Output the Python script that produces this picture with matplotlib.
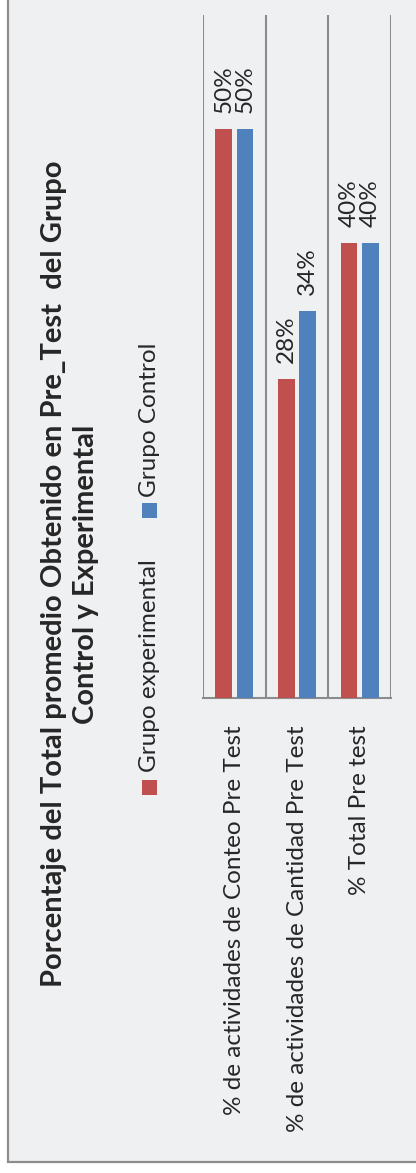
import matplotlib
matplotlib.use("Agg")
import matplotlib.pyplot as plt
from matplotlib.patches import Rectangle

# Data
categories = [
    "% de actividades de Conteo Pre Test",
    "% de actividades de Cantidad Pre Test",
    "% Total Pre test",
]
series_names = ["Grupo experimental", "Grupo Control"]
experimental = [0.50, 0.28, 0.40]
control = [0.50, 0.34, 0.40]
title = "Porcentaje del Total promedio Obtenido en Pre_Test  del Grupo\nControl y Experimental"

RED = "#C0504D"
BLUE = "#4F81BD"
BG = "#EFF0F2"
GRID = "#8C8C8C"
TXT = "#262626"
FONT = "Lato"

W, H = 416, 1173
fig = plt.figure(figsize=(W / 100, H / 100), dpi=100, facecolor="white")


def px(x, y):
    """Pixel position (from top-left) to figure fraction."""
    return x / W, 1 - y / H


# chart panel
fig.patches.append(Rectangle((8 / W, 1 - 1162 / H), (W - 8) / W + 0.01, 1162 / H + 0.01,
                             transform=fig.transFigure, facecolor=BG, edgecolor=GRID,
                             linewidth=1.6, zorder=-10))

# plot area
x0, y0 = px(203, 698)
x1, y1 = px(391, 15)
ax = fig.add_axes([x0, y0, x1 - x0, y1 - y0])
ax.set_facecolor("none")
ax.set_zorder(1)

idx = list(range(len(categories)))
width = 0.27
off = 0.17
bars_e = ax.bar([i - off for i in idx], experimental, width, color=RED, zorder=3)
bars_c = ax.bar([i + off for i in idx], control, width, color=BLUE, zorder=3)

ax.set_xlim(-0.5, len(categories) - 0.5)
ax.set_ylim(0, 0.6)
for s in ["left", "right", "top"]:
    ax.spines[s].set_visible(False)
ax.spines["bottom"].set_color(GRID)
ax.spines["bottom"].set_linewidth(1.5)
for b in [i - 0.5 for i in range(len(categories) + 1)]:
    ax.axvline(b, color=GRID, linewidth=1.5, zorder=1)
ax.set_xticks([])
ax.set_yticks([])

# value labels
for bars, vals in [(bars_e, experimental), (bars_c, control)]:
    for rect, v in zip(bars, vals):
        ax.annotate(f"{v:.0%}", xy=(rect.get_x() + rect.get_width() / 2, v),
                    xytext=(0, 16), textcoords="offset pixels", rotation=90,
                    ha="center", va="bottom", fontsize=17.5, color=TXT, family=FONT,
                    annotation_clip=False)

# category labels
for i, c in enumerate(categories):
    ax.annotate(c, xy=(i, 0), xycoords=("data", "axes fraction"),
                xytext=(0, -27), textcoords="offset pixels", rotation=90,
                ha="center", va="top", fontsize=17.5, color=TXT, family=FONT,
                annotation_clip=False)

# title
tx, ty = px(70, 574)
fig.text(tx, ty, title, rotation=90, ha="center", va="center", multialignment="center",
         fontsize=21, fontweight="bold", color=TXT, family=FONT, linespacing=1.25)

# legend
for (name, color, sq_top, text_start) in [(series_names[0], RED, 780, 772),
                                          (series_names[1], BLUE, 503, 497)]:
    sx, sy = px(142, sq_top + 15)
    fig.patches.append(Rectangle((sx, sy), 15 / W, 15 / H, transform=fig.transFigure,
                                 facecolor=color, edgecolor="none"))
    lx, ly = px(150, text_start)
    fig.text(lx, ly, name, rotation=90, ha="center", va="bottom",
             fontsize=17.5, color=TXT, family=FONT)

fig.savefig("out.png", dpi=100, facecolor=fig.get_facecolor())
